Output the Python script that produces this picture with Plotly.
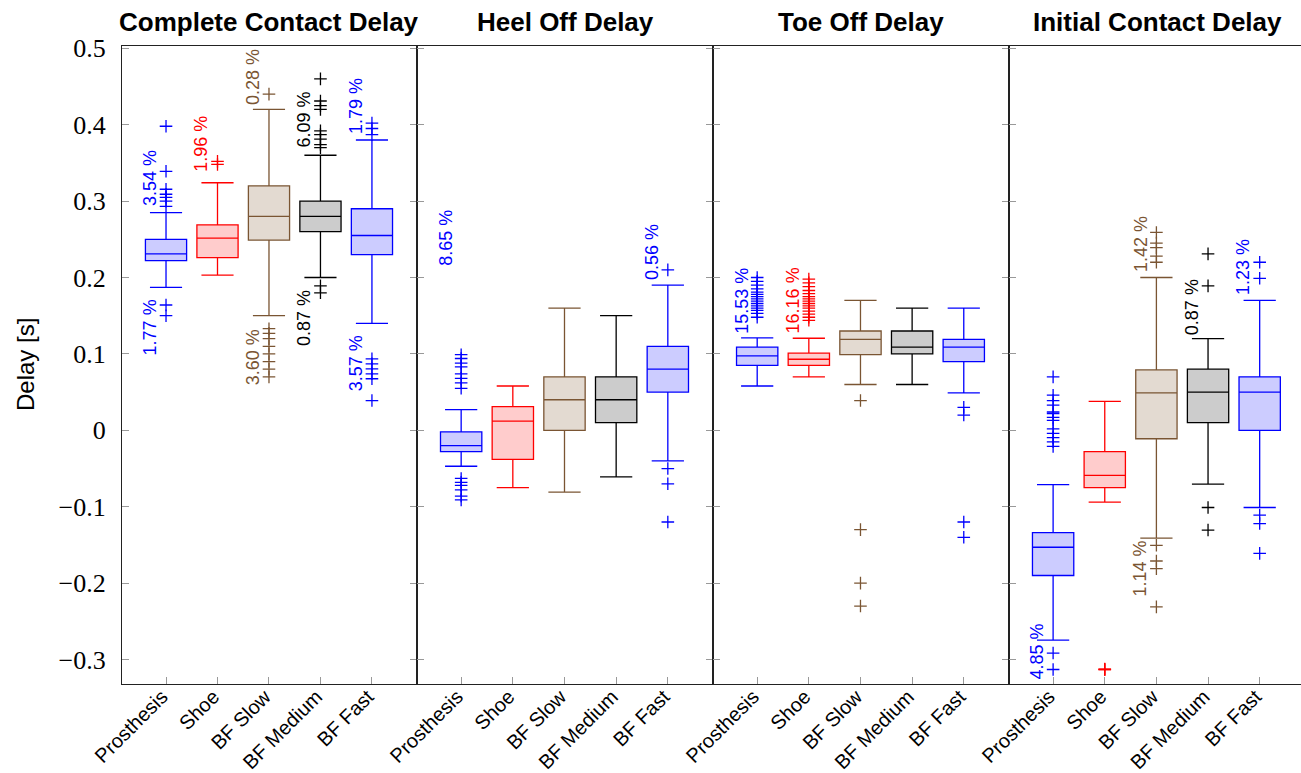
import plotly.graph_objects as go

# ---------------- data ----------------
categories = ["Prosthesis", "Shoe", "BF Slow", "BF Medium", "BF Fast"]
panel_titles = ["Complete Contact Delay", "Heel Off Delay", "Toe Off Delay", "Initial Contact Delay"]
y_ticks = [-0.3, -0.2, -0.1, 0, 0.1, 0.2, 0.3, 0.4, 0.5]

# Complete Contact Delay
ccd_q1 = [0.222, 0.226, 0.249, 0.260, 0.230]
ccd_med = [0.231, 0.2515, 0.280, 0.280, 0.255]
ccd_q3 = [0.250, 0.269, 0.320, 0.300, 0.290]
ccd_lo = [0.187, 0.203, 0.150, 0.200, 0.140]
ccd_hi = [0.285, 0.324, 0.420, 0.360, 0.380]
ccd_out = [
    [0.293, 0.300, 0.305, 0.309, 0.3155, 0.339, 0.398, 0.164, 0.150],
    [0.352, 0.348],
    [0.44, 0.133, 0.127, 0.12, 0.11, 0.10, 0.09, 0.08, 0.07],
    [0.46, 0.431, 0.425, 0.42, 0.392, 0.387, 0.381, 0.374, 0.37, 0.189, 0.18],
    [0.402, 0.395, 0.387, 0.0935, 0.087, 0.0805, 0.074, 0.0675, 0.039],
]

# Heel Off Delay
ho_q1 = [-0.028, -0.038, 0.0, 0.01, 0.05]
ho_med = [-0.020, 0.012, 0.04, 0.04, 0.08]
ho_q3 = [-0.002, 0.031, 0.07, 0.07, 0.11]
ho_lo = [-0.047, -0.075, -0.081, -0.061, -0.040]
ho_hi = [0.027, 0.058, 0.160, 0.150, 0.190]
ho_out = [
    [0.099, 0.094, 0.088, 0.083, 0.074, 0.068, 0.062, 0.055,
     -0.063, -0.068, -0.072, -0.078, -0.086, -0.091],
    [],
    [],
    [],
    [0.21, -0.05, -0.07, -0.12],
]

# Toe Off Delay
to_q1 = [0.085, 0.085, 0.099, 0.10, 0.09]
to_med = [0.0975, 0.093, 0.119, 0.109, 0.109]
to_q3 = [0.109, 0.101, 0.130, 0.130, 0.119]
to_lo = [0.058, 0.070, 0.060, 0.060, 0.049]
to_hi = [0.121, 0.1205, 0.170, 0.160, 0.160]
to_out = [
    [0.148, 0.153, 0.157, 0.160, 0.163, 0.166, 0.169, 0.172, 0.175, 0.178,
     0.181, 0.185, 0.19, 0.195, 0.20],
    [0.144, 0.148, 0.152, 0.156, 0.160, 0.163, 0.166, 0.169, 0.172, 0.175,
     0.179, 0.183, 0.188, 0.193, 0.198],
    [0.039, -0.13, -0.20, -0.23],
    [],
    [0.03, 0.02, -0.12, -0.14],
]

# Initial Contact Delay
ic_q1 = [-0.190, -0.075, -0.011, 0.01, 0.0]
ic_med = [-0.153, -0.059, 0.049, 0.05, 0.05]
ic_q3 = [-0.134, -0.028, 0.079, 0.08, 0.07]
ic_lo = [-0.2745, -0.094, -0.141, -0.0705, -0.101]
ic_hi = [-0.071, 0.038, 0.200, 0.120, 0.170]
ic_out = [
    [0.070, 0.046, 0.039, 0.033, 0.024, 0.022, 0.017, 0.013, 0.002, -0.004,
     -0.0095, -0.015, -0.021, -0.2915, -0.313],
    [-0.313, -0.313, -0.3125],
    [0.259, 0.245, 0.239, 0.228, 0.22, -0.1505, -0.171, -0.181, -0.231],
    [0.231, 0.189, -0.101, -0.1305],
    [0.22, 0.199, -0.111, -0.122, -0.161],
]

# outlier-percentage labels: (panel, box, text, anchor value, side)
pct_labels = [
    (0, 0, "3.54 %", 0.291, "up"), (0, 0, "1.77 %", 0.174, "down"),
    (0, 1, "1.96 %", 0.335, "up"),
    (0, 2, "0.28 %", 0.423, "up"), (0, 2, "3.60 %", 0.135, "down"),
    (0, 3, "6.09 %", 0.368, "up"), (0, 3, "0.87 %", 0.187, "down"),
    (0, 4, "1.79 %", 0.385, "up"), (0, 4, "3.57 %", 0.127, "down"),
    (1, 0, "8.65 %", 0.213, "up"),
    (1, 4, "0.56 %", 0.194, "up"),
    (2, 0, "15.53 %", 0.124, "up"),
    (2, 1, "16.16 %", 0.124, "up"),
    (3, 0, "4.85 %", -0.250, "down"),
    (3, 2, "1.42 %", 0.205, "up"), (3, 2, "1.14 %", -0.141, "down"),
    (3, 3, "0.87 %", 0.122, "up"),
    (3, 4, "1.23 %", 0.174, "up"),
]

# ---------------- styles ----------------
line_colors = ["#0000FF", "#FF0000", "#7A5533", "#000000", "#0000FF"]
fill_colors = ["#CCCCFF", "#FFCCCC", "#E3DAD1", "#CCCCCC", "#CCCCFF"]

panels = [
    (ccd_q1, ccd_med, ccd_q3, ccd_lo, ccd_hi, ccd_out),
    (ho_q1, ho_med, ho_q3, ho_lo, ho_hi, ho_out),
    (to_q1, to_med, to_q3, to_lo, to_hi, to_out),
    (ic_q1, ic_med, ic_q3, ic_lo, ic_hi, ic_out),
]

positions = [1, 2, 3, 4, 5]
fig = go.Figure()

for p, (q1, med, q3, lo, hi, outs) in enumerate(panels):
    xa = "x" if p == 0 else f"x{p+1}"
    ya = "y" if p == 0 else f"y{p+1}"
    for b in range(5):
        fig.add_trace(go.Box(
            x=[positions[b]], q1=[q1[b]], median=[med[b]], q3=[q3[b]],
            lowerfence=[lo[b]], upperfence=[hi[b]],
            width=0.8, whiskerwidth=0.78, boxpoints=False,
            line=dict(color=line_colors[b], width=1.3),
            fillcolor=fill_colors[b], xaxis=xa, yaxis=ya,
            showlegend=False, hoverinfo="skip"))
        if outs[b]:
            fig.add_trace(go.Scatter(
                x=[positions[b]] * len(outs[b]), y=outs[b], mode="markers",
                marker=dict(symbol="cross-thin", size=9,
                            line=dict(color=line_colors[b], width=1.3)),
                xaxis=xa, yaxis=ya, showlegend=False, hoverinfo="skip"))

annotations = []
for (p, b, txt, yv, side) in pct_labels:
    xr = "x" if p == 0 else f"x{p+1}"
    yr = "y" if p == 0 else f"y{p+1}"
    annotations.append(dict(
        x=positions[b], y=yv, xref=xr, yref=yr, text=txt, showarrow=False,
        textangle=-90, xanchor="right", xshift=-4,
        yanchor="bottom" if side == "up" else "top",
        font=dict(family="Liberation Sans", size=18, color=line_colors[b])))

left, right, top, bottom = 122, 0, 46, 89
W, H = 1301, 773
# panel boundaries in plot fraction (last panel is cut by the image edge)
bounds = [0.0, 0.2502, 0.5013, 0.7523, 1.0]
ranges = [[0.145, 5.875], [0.145, 5.875], [0.145, 5.875], [0.145, 5.80]]

for p, t in enumerate(panel_titles):
    cx = (bounds[p] + bounds[p + 1]) / 2 if p < 3 else bounds[3] + 0.5 * 0.2512
    annotations.append(dict(
        x=cx, y=1, xref="paper", yref="paper", text=f"<b>{t}</b>",
        showarrow=False, xanchor="center", yanchor="bottom", yshift=7,
        font=dict(family="Liberation Sans", size=26, color="black")))

annotations.append(dict(
    x=0, y=0.5, xref="paper", yref="paper", text="Delay [s]", showarrow=False,
    textangle=-90, xanchor="center", yanchor="middle", xshift=-97,
    font=dict(family="Liberation Sans", size=24, color="black")))

layout = dict(
    width=W, height=H, margin=dict(l=left, r=right, t=top, b=bottom),
    paper_bgcolor="white", plot_bgcolor="white", annotations=annotations,
)
for p in range(4):
    kx = "xaxis" if p == 0 else f"xaxis{p+1}"
    ky = "yaxis" if p == 0 else f"yaxis{p+1}"
    layout[kx] = dict(
        domain=[bounds[p], bounds[p + 1]], range=ranges[p],
        anchor="y" if p == 0 else f"y{p+1}",
        tickvals=positions, ticktext=categories, tickangle=-45,
        ticks="inside", ticklen=7, tickcolor="#999999", tickwidth=1,
        showline=True, linecolor="#222222", linewidth=1.3, mirror=True,
        showgrid=False, zeroline=False, automargin=False,
        ticklabeloverflow="allow", ticklabelshift=-4, ticklabelstandoff=-8,
        tickfont=dict(family="Liberation Sans", size=20, color="black"))
    layout[ky] = dict(
        range=[-0.332, 0.503], anchor="x" if p == 0 else f"x{p+1}",
        tickvals=y_ticks, ticks="inside", ticklen=7, tickcolor="#999999",
        tickwidth=1, showline=True, linecolor="#222222", linewidth=1.3,
        mirror="ticks" if p < 3 else False, showgrid=False, zeroline=False,
        showticklabels=(p == 0), ticklabelstandoff=10, automargin=False,
        tickfont=dict(family="Liberation Serif", size=26, color="black"))
    if p > 0:
        layout[ky]["matches"] = "y"

fig.update_layout(**layout)
fig.write_html("out.html")
